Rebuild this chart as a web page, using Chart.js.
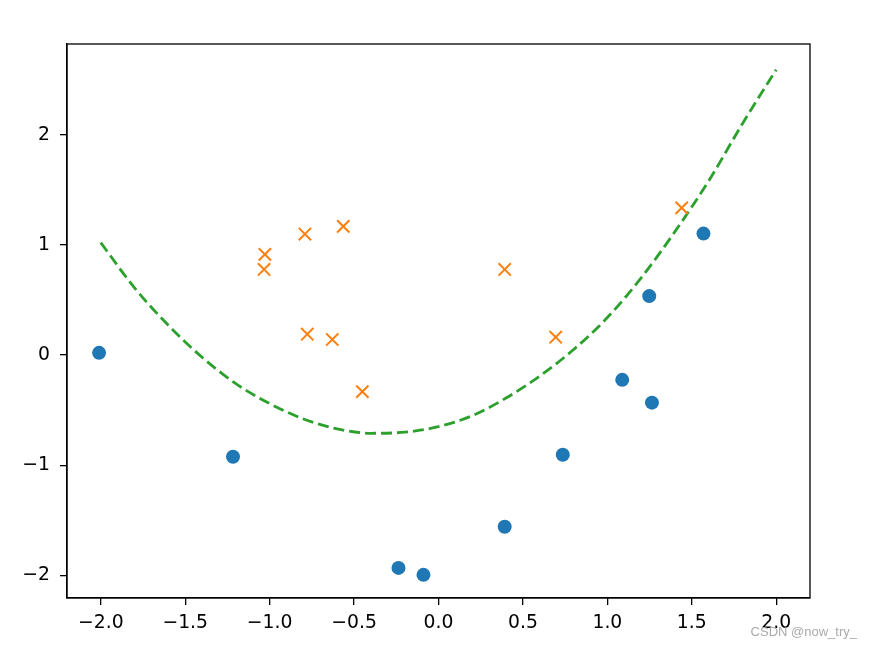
<!DOCTYPE html>
<html>
<head>
<meta charset="UTF-8">
<script src="https://cdn.jsdelivr.net/npm/chart.js"></script>
<style>
  body { margin: 0; background: #fff; }
</style>
</head>
<body>
<canvas id="c" width="871" height="649"></canvas>
<script>
// data
const blueX = [-2.010, -1.217, -0.237, -0.089, 0.392, 0.736, 1.088, 1.248, 1.264, 1.569];
const blueY = [0.020, -0.923, -1.932, -1.995, -1.559, -0.905, -0.225, 0.535, -0.432, 1.102];
const orangeX = [-1.028, -1.033, -0.791, -0.564, -0.777, -0.629, -0.451, 0.392, 0.694, 1.440];
const orangeY = [0.914, 0.777, 1.098, 1.168, 0.189, 0.141, -0.332, 0.777, 0.162, 1.336];
const curveX = [-2.0, -1.8, -1.6, -1.4, -1.2, -1.0, -0.8, -0.6, -0.4, -0.2, 0.0, 0.2, 0.4, 0.6, 0.8, 1.0, 1.2, 1.4, 1.6, 1.8, 2.0];
const curveY = [1.02, 0.61, 0.27, -0.02, -0.26, -0.44, -0.58, -0.67, -0.71, -0.70, -0.65, -0.55, -0.39, -0.19, 0.05, 0.34, 0.70, 1.12, 1.58, 2.10, 2.59];
const xTicks = [-2.0, -1.5, -1.0, -0.5, 0.0, 0.5, 1.0, 1.5, 2.0];
const yTicks = [-2, -1, 0, 1, 2];

const pts = (xs, ys) => xs.map((x, i) => ({ x: x, y: ys[i] }));
const minus = v => (v < 0 ? '\u2212' : '') + Math.abs(v);

const font = { family: 'DejaVu Sans', size: 18.8 };

// black box round the plot + watermark
const frame = {
  id: 'frame',
  afterDraw(chart) {
    const { ctx, chartArea: a } = chart;
    ctx.save();
    ctx.strokeStyle = '#000';
    ctx.lineWidth = 1.3;
    ctx.strokeRect(a.left, a.top, a.right - a.left, a.bottom - a.top);
    ctx.fillStyle = '#aaa';
    ctx.font = '13px "Liberation Sans"';
    ctx.textAlign = 'right';
    ctx.textBaseline = 'middle';
    ctx.fillText('CSDN @now_try_', 857, 632);
    ctx.restore();
  }
};

new Chart(document.getElementById('c'), {
  type: 'scatter',
  data: {
    datasets: [
      { data: pts(blueX, blueY), pointStyle: 'circle', pointRadius: 7, backgroundColor: '#1f77b4', borderWidth: 0 },
      { data: pts(orangeX, orangeY), pointStyle: 'crossRot', pointRadius: 8.7, borderColor: '#ff7f0e', backgroundColor: '#ff7f0e', borderWidth: 2 },
      { data: pts(curveX, curveY), showLine: true, pointRadius: 0, borderColor: '#2ca02c', borderWidth: 2.8,
        borderDash: [11, 5], cubicInterpolationMode: 'monotone', fill: false }
    ]
  },
  options: {
    responsive: false,
    animation: false,
    layout: { padding: { top: 44, right: 61, left: 0, bottom: 0 } },
    plugins: { legend: { display: false }, tooltip: { enabled: false } },
    scales: {
      x: {
        type: 'linear', min: -2.2, max: 2.2,
        afterBuildTicks: s => { s.ticks = xTicks.map(v => ({ value: v })); },
        afterFit: s => { s.height = 51; },
        ticks: { callback: v => (v < 0 ? '\u2212' : '') + Math.abs(v).toFixed(1), font: font, color: '#000', padding: 7, maxRotation: 0, autoSkip: false },
        grid: { drawOnChartArea: false, tickLength: 7, color: '#000', lineWidth: 1.3 },
        border: { color: '#000', width: 1.3 }
      },
      y: {
        type: 'linear', min: -2.205, max: 2.823,
        afterBuildTicks: s => { s.ticks = yTicks.map(v => ({ value: v })); },
        afterFit: s => { s.width = 67; },
        ticks: { callback: minus, font: font, color: '#000', padding: 10, autoSkip: false },
        grid: { drawOnChartArea: false, tickLength: 7, color: '#000', lineWidth: 1.3 },
        border: { color: '#000', width: 1.3 }
      }
    }
  },
  plugins: [frame]
});
</script>
</body>
</html>
